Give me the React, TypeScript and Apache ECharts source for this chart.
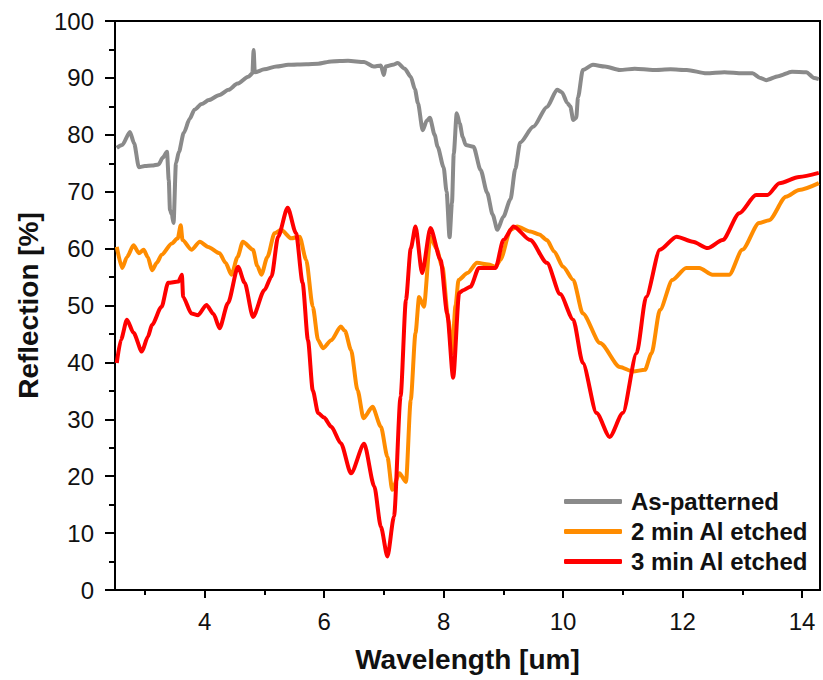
import React, { useEffect, useRef } from "react";
import * as echarts from "echarts";

const xTickLabels = [4, 6, 8, 10, 12, 14];
const xMinorTicks = [3, 5, 7, 9, 11, 13];
const seriesNames = ["As-patterned", "2 min Al etched", "3 min Al etched"];

const asX = [2.53, 2.62, 2.75, 2.82, 2.9, 3.0, 3.12, 3.23, 3.3, 3.37, 3.4, 3.42, 3.45, 3.48, 3.52, 3.57, 3.65, 3.75, 3.83, 3.95, 4.07, 4.25, 4.4, 4.55, 4.73, 4.8, 4.82, 4.84, 5.0, 5.2, 5.4, 5.7, 5.9, 6.12, 6.4, 6.67, 6.83, 6.95, 7.0, 7.03, 7.15, 7.23, 7.35, 7.45, 7.52, 7.57, 7.65, 7.72, 7.77, 7.85, 7.9, 8.0, 8.05, 8.1, 8.14, 8.17, 8.22, 8.27, 8.32, 8.37, 8.5, 8.62, 8.73, 8.82, 8.9, 9.0, 9.12, 9.2, 9.28, 9.5, 9.73, 9.9, 9.98, 10.07, 10.12, 10.17, 10.22, 10.25, 10.33, 10.5, 10.7, 10.95, 11.2, 11.5, 11.8, 12.07, 12.4, 12.7, 13.0, 13.17, 13.3, 13.4, 13.6, 13.83, 14.07, 14.2, 14.28];
const asY = [77.7, 78.2, 80.5, 78.5, 74.3, 74.5, 74.6, 74.8, 76.0, 77.0, 72, 66.8, 66.0, 64.5, 75.0, 77, 80.3, 82.8, 84.4, 85.4, 86.1, 87.0, 87.9, 89.0, 90.2, 90.8, 94.9, 91.0, 91.5, 92.0, 92.3, 92.4, 92.5, 92.9, 93.0, 92.8, 92.0, 92.2, 90.5, 92.0, 92.3, 92.6, 91.6, 90.2, 88, 85.6, 80.8, 82.5, 83, 80, 77.9, 74.3, 70, 62, 68, 76.7, 83.8, 82, 79.6, 78.2, 77.9, 73.8, 69.8, 66, 63.3, 65.6, 68.7, 74, 78.6, 81.4, 84.9, 87.9, 87.5, 85.6, 85, 82.6, 83, 86.6, 91.4, 92.3, 92.0, 91.4, 91.6, 91.4, 91.5, 91.4, 90.8, 91.0, 90.8, 90.8, 90.0, 89.6, 90.3, 91.1, 91.0, 90.0, 89.8];

const twoX = [2.53, 2.62, 2.7, 2.81, 2.9, 2.98, 3.05, 3.12, 3.2, 3.28, 3.45, 3.55, 3.6, 3.63, 3.78, 3.92, 4.06, 4.25, 4.35, 4.45, 4.55, 4.64, 4.81, 4.88, 4.95, 5.05, 5.17, 5.28, 5.45, 5.59, 5.7, 5.81, 5.9, 5.98, 6.12, 6.28, 6.35, 6.45, 6.56, 6.66, 6.81, 6.95, 7.06, 7.14, 7.26, 7.37, 7.45, 7.53, 7.59, 7.67, 7.78, 7.88, 7.98, 8.08, 8.14, 8.2, 8.25, 8.4, 8.56, 8.75, 8.87, 8.95, 9.12, 9.23, 9.45, 9.6, 9.73, 9.85, 10.0, 10.17, 10.33, 10.62, 10.95, 11.17, 11.37, 11.48, 11.62, 11.83, 12.06, 12.28, 12.5, 12.78, 13.0, 13.28, 13.45, 13.73, 13.95, 14.28];
const twoY = [60.3, 56.6, 58.5, 60.6, 59.2, 59.8, 58.5, 56.2, 57.5, 58.9, 60.9, 61.8, 64.1, 61.5, 59.8, 61.2, 60.3, 59.2, 57.5, 55.4, 58.5, 61.2, 59.8, 57, 55.4, 58.5, 62.7, 63.3, 61.8, 62.1, 58, 49.8, 43.9, 42.5, 43.9, 46.3, 45.5, 42.2, 35.1, 30.2, 32.2, 28.7, 23.4, 17.6, 20.5, 19.0, 33.4, 45.2, 51.5, 49.8, 62.1, 60, 56.8, 47.5, 41.6, 50, 54.5, 55.7, 57.5, 57.2, 56.8, 58, 63.3, 63.9, 63.0, 62.5, 61.5, 59.5, 56.8, 54.5, 48.6, 43.4, 39.2, 38.4, 38.7, 41.6, 49.2, 54.5, 56.6, 56.6, 55.4, 55.4, 59.8, 64.5, 65, 69.1, 70.3, 71.5];

const threeX = [2.53, 2.6, 2.7, 2.81, 2.95, 3.05, 3.12, 3.28, 3.39, 3.56, 3.62, 3.64, 3.78, 3.89, 4.03, 4.15, 4.25, 4.39, 4.56, 4.67, 4.81, 5.0, 5.12, 5.23, 5.39, 5.53, 5.64, 5.73, 5.81, 5.9, 6.0, 6.12, 6.28, 6.45, 6.67, 6.84, 6.95, 7.06, 7.17, 7.28, 7.37, 7.45, 7.53, 7.64, 7.78, 7.95, 8.06, 8.16, 8.26, 8.33, 8.45, 8.59, 8.87, 9.0, 9.17, 9.45, 9.73, 9.95, 10.17, 10.33, 10.56, 10.78, 11.0, 11.23, 11.39, 11.62, 11.9, 12.17, 12.42, 12.67, 12.95, 13.23, 13.42, 13.62, 13.95, 14.28];
const threeY = [39.9, 44, 47.5, 45.2, 41.9, 44.5, 46.6, 49.8, 54.0, 54.2, 55.4, 51.5, 48.6, 48.3, 50.1, 48.5, 46.0, 50.4, 56.8, 54.0, 48.0, 52.7, 55.1, 62.1, 67.2, 62.7, 54, 43.9, 35.1, 31.1, 30.3, 28.7, 25.8, 20.5, 25.7, 18.2, 11.1, 5.9, 12.9, 34, 51, 60, 63.9, 55.7, 63.6, 58, 48.6, 37.3, 52.2, 52.7, 53.3, 56.6, 56.6, 61.5, 63.9, 61.5, 57.5, 52, 47.5, 39.9, 31.1, 26.9, 31.1, 41.6, 51.5, 59.8, 62.1, 61.2, 60.1, 61.5, 66.2, 69.4, 69.4, 71.5, 72.6, 73.3];

const colors = ["#8a8a8a", "#ff8c00", "#ff0000"];

const zip = (xs: number[], ys: number[]) => xs.map((x, i) => [x, ys[i]]);

export default function App() {
  const ref = useRef<HTMLDivElement>(null);
  useEffect(() => {
    document.body.style.margin = "0";
    if (!ref.current) return;
    const chart = echarts.init(ref.current, null, { renderer: "svg" });
    const font = "'Liberation Sans', Arial, sans-serif";
    const lineSeries = (name: string, data: number[][], color: string) => ({
      name,
      type: "line",
      data,
      xAxisIndex: 0,
      yAxisIndex: 0,
      showSymbol: false,
      symbol: "none",
      smooth: 0.25,
      smoothMonotone: "x",
      lineStyle: { color, width: 4 },
      itemStyle: { color },
    });
    chart.setOption({
      animation: false,
      backgroundColor: "#ffffff",
      grid: {
        left: 115,
        top: 21,
        right: 3,
        bottom: 90,
        show: true,
        borderColor: "#000",
        borderWidth: 2,
        backgroundColor: "transparent",
      },
      legend: {
        orient: "vertical",
        left: 559,
        top: 484,
        itemWidth: 58,
        itemHeight: 5,
        itemGap: 5,
        icon: "roundRect",
        data: seriesNames,
        textStyle: {
          fontFamily: font,
          fontSize: 24,
          fontWeight: "bold",
          color: "#111",
          lineHeight: 25,
          padding: [0, 0, 0, 4],
        },
      },
      xAxis: [
        {
          type: "value",
          min: 2.5,
          max: 14.3,
          position: "bottom",
          name: "Wavelength [um]",
          nameLocation: "middle",
          nameGap: 55,
          nameTextStyle: { fontFamily: font, fontSize: 28, fontWeight: "bold", color: "#111" },
          axisLine: { show: true, lineStyle: { color: "#000", width: 2 } },
          axisTick: { show: true, inside: false, length: 8, customValues: xTickLabels, lineStyle: { color: "#000", width: 2 } },
          axisLabel: { customValues: xTickLabels, margin: 19, fontFamily: font, fontSize: 24, color: "#111" },
          splitLine: { show: false },
        },
        {
          type: "value",
          min: 2.5,
          max: 14.3,
          position: "bottom",
          offset: 0,
          axisLine: { show: false },
          axisTick: { show: true, inside: false, length: 5, customValues: xMinorTicks, lineStyle: { color: "#000", width: 2 } },
          axisLabel: { show: false },
          splitLine: { show: false },
        },
      ],
      yAxis: {
        type: "value",
        min: 0,
        max: 100,
        interval: 10,
        name: "Reflection [%]",
        nameLocation: "middle",
        nameGap: 73,
        nameTextStyle: { fontFamily: font, fontSize: 28, fontWeight: "bold", color: "#111" },
        axisLine: { show: true, lineStyle: { color: "#000", width: 2 } },
        axisTick: { show: true, inside: false, length: 10, lineStyle: { color: "#000", width: 2 } },
        minorTick: { show: true, splitNumber: 2, length: 6, lineStyle: { color: "#000", width: 2 } },
        axisLabel: { margin: 21, fontFamily: font, fontSize: 24, color: "#111" },
        splitLine: { show: false },
        minorSplitLine: { show: false },
      },
      series: [
        lineSeries(seriesNames[0], zip(asX, asY), colors[0]),
        lineSeries(seriesNames[1], zip(twoX, twoY), colors[1]),
        lineSeries(seriesNames[2], zip(threeX, threeY), colors[2]),
      ],
    });
    return () => chart.dispose();
  }, []);
  return <div ref={ref} style={{ width: 823, height: 680 }} />;
}
